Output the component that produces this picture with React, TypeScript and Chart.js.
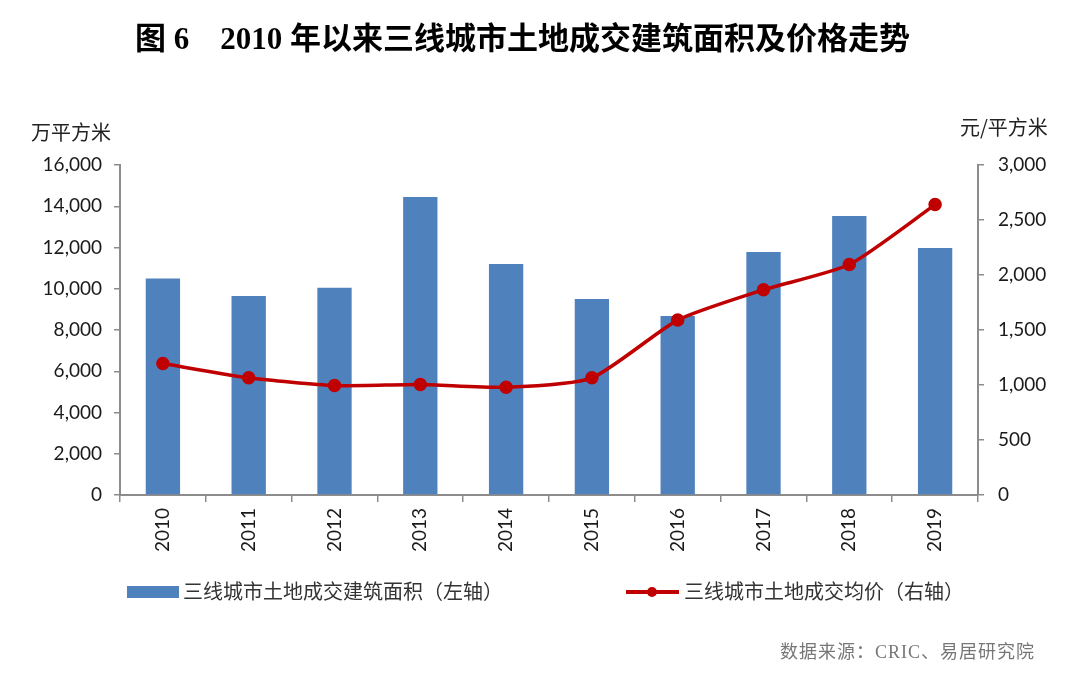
import React, { useEffect, useRef } from "react";
import { Chart, registerables } from "chart.js";

Chart.register(...registerables);

const categories = ["2010", "2011", "2012", "2013", "2014", "2015", "2016", "2017", "2018", "2019"];
const areaValues = [10500, 9650, 10050, 14450, 11200, 9500, 8680, 11780, 13530, 11980];
const priceValues = [1195, 1065, 995, 1005, 980, 1065, 1590, 1865, 2095, 2640];
const leftTicks = [0, 2000, 4000, 6000, 8000, 10000, 12000, 14000, 16000];
const rightTicks = [0, 500, 1000, 1500, 2000, 2500, 3000];

const areaLabel = "三线城市土地成交建筑面积（左轴）";
const priceLabel = "三线城市土地成交均价（右轴）";
const titleText = "图 6\u30002010 年以来三线城市土地成交建筑面积及价格走势";
const sourceText = "数据来源：CRIC、易居研究院";

const BLUE = "#4f81bd";
const RED = "#c00000";
const AXIS = "#8c8c8c";
const TICKFONT = { family: "Lato, 'Noto Sans', sans-serif", size: 19 };
const CJK = "'Noto Sans CJK SC', sans-serif";

export default function App() {
  const ref = useRef<HTMLCanvasElement | null>(null);

  useEffect(() => {
    if (!ref.current) return;
    const fmt = (v: any) => Number(v).toLocaleString("en-US");
    const chart = new Chart(ref.current, {
      type: "bar",
      data: {
        labels: categories,
        datasets: [
          {
            type: "line",
            label: priceLabel,
            data: priceValues,
            yAxisID: "y1",
            borderColor: RED,
            backgroundColor: RED,
            borderWidth: 3.5,
            pointRadius: 5,
            pointBackgroundColor: RED,
            pointBorderColor: RED,
            tension: 0.2,
            order: 0,
          },
          {
            type: "bar",
            label: areaLabel,
            data: areaValues,
            yAxisID: "y",
            backgroundColor: BLUE,
            barPercentage: 0.4,
            categoryPercentage: 1,
            order: 1,
          },
        ],
      },
      options: {
        responsive: false,
        animation: false,
        layout: { padding: { top: 165, left: 0, right: 0, bottom: 0 } },
        plugins: { legend: { display: false }, tooltip: { enabled: false }, title: { display: false } },
        scales: {
          x: {
            offset: true,
            grid: { offset: true, drawOnChartArea: false, drawTicks: true, tickLength: 7, color: AXIS, lineWidth: 1.5 },
            border: { display: true, color: AXIS, width: 2 },
            ticks: { minRotation: 90, maxRotation: 90, padding: 6, color: "#1a1a1a", font: TICKFONT },
            afterFit: (s: any) => { s.height = 180; },
          },
          y: {
            position: "left",
            min: 0,
            max: 16000,
            afterBuildTicks: (s: any) => { s.ticks = leftTicks.map((v) => ({ value: v })); },
            grid: { drawOnChartArea: false, drawTicks: true, tickLength: 6, color: AXIS, lineWidth: 1.5 },
            border: { display: true, color: AXIS, width: 2 },
            ticks: { padding: 12, color: "#1a1a1a", font: TICKFONT, callback: fmt },
            afterFit: (s: any) => { s.width = 120; },
          },
          y1: {
            position: "right",
            min: 0,
            max: 3000,
            afterBuildTicks: (s: any) => { s.ticks = rightTicks.map((v) => ({ value: v })); },
            grid: { drawOnChartArea: false, drawTicks: true, tickLength: 6, color: AXIS, lineWidth: 1.5 },
            border: { display: true, color: AXIS, width: 2 },
            ticks: { padding: 14, color: "#1a1a1a", font: TICKFONT, callback: fmt },
            afterFit: (s: any) => { s.width = 102; },
          },
        },
      },
    } as any);
    return () => chart.destroy();
  }, []);

  const abs = (extra: React.CSSProperties): React.CSSProperties => ({ position: "absolute", whiteSpace: "nowrap", ...extra });

  return (
    <div style={{ position: "absolute", left: 0, top: 0, width: 1080, height: 675, background: "#fff", overflow: "hidden" }}>
      <canvas ref={ref} width={1080} height={675} style={{ position: "absolute", left: 0, top: 0 }} />
      <div style={abs({ left: 135, top: 18, fontFamily: "'Liberation Serif', " + CJK, fontWeight: 700, fontSize: 31, color: "#000", lineHeight: "42px" })}>{titleText}</div>
      <div style={abs({ left: 31, top: 119, fontFamily: CJK, fontSize: 20, color: "#222", lineHeight: "26px" })}>万平方米</div>
      <div style={abs({ left: 960, top: 114, fontFamily: CJK, fontSize: 20, color: "#222", lineHeight: "26px" })}>元/平方米</div>
      <div style={abs({ left: 127, top: 586, width: 52, height: 12, background: BLUE })} />
      <div style={abs({ left: 183, top: 577, fontFamily: CJK, fontSize: 20, color: "#333", lineHeight: "28px" })}>{areaLabel}</div>
      <div style={abs({ left: 626, top: 590, width: 53, height: 4, background: RED })} />
      <div style={abs({ left: 647, top: 587, width: 10, height: 10, borderRadius: 5, background: RED })} />
      <div style={abs({ left: 684, top: 577, fontFamily: CJK, fontSize: 20, color: "#333", lineHeight: "28px" })}>{priceLabel}</div>
      <div style={abs({ left: 780, top: 640, fontFamily: "'Liberation Serif', " + CJK, fontSize: 18, letterSpacing: 1, color: "#777", lineHeight: "24px" })}>{sourceText}</div>
    </div>
  );
}
